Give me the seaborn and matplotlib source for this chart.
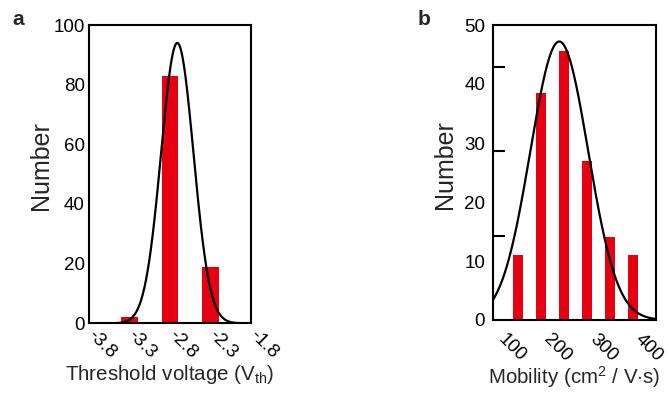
import numpy as np
import pandas as pd
import matplotlib
matplotlib.use("Agg")
import matplotlib.pyplot as plt
from matplotlib.transforms import ScaledTranslation
import seaborn as sns

# ---- panel a: threshold voltage histogram ----
vth_centers = [-3.3, -2.8, -2.3]
vth_counts = [2, 83, 19]
vth_ticks = [-3.8, -3.3, -2.8, -2.3, -1.8]
vth_ticklabels = ["-3.8", "-3.3", "-2.8", "-2.3", "-1.8"]
vth_yticks = [0, 20, 40, 60, 80, 100]
# Gaussian fit: centre, standard deviation, peak height
vth_fit_center = -2.71
vth_fit_sigma = 0.20
vth_fit_peak = 94

# ---- panel b: mobility histogram ----
mob_centers = [125, 175, 225, 275, 325, 375]
mob_counts = [11.1, 38.4, 45.6, 26.9, 14.1, 11.1]
mob_ticks = [100, 200, 300, 400]
mob_ticklabels = ["100", "200", "300", "400"]
mob_yticks = [0, 10, 20, 30, 40, 50]
mob_inner_ticks = [14.3, 28.6, 42.9]
mob_fit_center = 215
mob_fit_sigma = 63
mob_fit_peak = 47.2

BAR_RED = "#e60012"

sns.set_style("white")
plt.rcParams["font.family"] = ["Liberation Sans", "DejaVu Sans"]
plt.rcParams["mathtext.fontset"] = "custom"
plt.rcParams["mathtext.rm"] = "Liberation Sans"
plt.rcParams["mathtext.it"] = "Liberation Sans:italic"
plt.rcParams["mathtext.bf"] = "Liberation Sans:bold"

W, H = 669, 403
fig = plt.figure(figsize=(W / 100, H / 100), dpi=100)
ax_a = fig.add_axes([89 / W, 1 - 323.3 / H, 162 / W, 298.3 / H])
ax_b = fig.add_axes([492.7 / W, 1 - 320 / H, 163 / W, 295 / H])


def gaussian(x, c, s, a):
    return a * np.exp(-((x - c) ** 2) / (2 * s ** 2))


def style_frame(ax):
    for sp in ax.spines.values():
        sp.set_visible(True)
        sp.set_color("black")
        sp.set_linewidth(1.5)


def shift_labels(ax, dx_px, dy_px=0):
    off = ScaledTranslation(dx_px / 100, dy_px / 100, fig.dpi_scale_trans)
    for lab in ax.get_xticklabels():
        lab.set_transform(lab.get_transform() + off)


# ---- panel a ----
df_a = pd.DataFrame({"vth": vth_centers, "count": vth_counts})
sns.barplot(data=df_a, x="vth", y="count", native_scale=True, width=0.4,
            color=BAR_RED, saturation=1, errorbar=None, linewidth=0, ax=ax_a)
xa = np.linspace(vth_ticks[0], vth_ticks[-1], 400)
sns.lineplot(x=xa, y=gaussian(xa, vth_fit_center, vth_fit_sigma, vth_fit_peak),
             color="black", linewidth=1.6, ax=ax_a)
ax_a.set_xlim(vth_ticks[0], vth_ticks[-1])
ax_a.set_ylim(0, 100)
ax_a.set_xticks(vth_ticks)
ax_a.set_xticklabels(vth_ticklabels, rotation=-45, ha="left", va="center",
                     rotation_mode="anchor")
ax_a.set_yticks(vth_yticks)
ax_a.tick_params(axis="both", length=0, labelsize=13.5, colors="black")
ax_a.tick_params(axis="y", pad=3)
ax_a.tick_params(axis="x", pad=7)
shift_labels(ax_a, 1)
style_frame(ax_a)
ax_a.set_ylabel("Number", fontsize=18, va="center")
ax_a.yaxis.set_label_coords(-0.296, 0.53)
ax_a.set_xlabel(r"Threshold voltage (V$_\mathrm{th}$)", fontsize=14.8, va="center")
ax_a.xaxis.set_label_coords(0.5, -0.17)

# ---- panel b ----
df_b = pd.DataFrame({"mobility": mob_centers, "count": mob_counts})
sns.barplot(data=df_b, x="mobility", y="count", native_scale=True, width=0.44,
            color=BAR_RED, saturation=1, errorbar=None, linewidth=0, ax=ax_b)
xb = np.linspace(60, 430, 400)
sns.lineplot(x=xb, y=gaussian(xb, mob_fit_center, mob_fit_sigma, mob_fit_peak),
             color="black", linewidth=1.6, ax=ax_b)
ax_b.set_xlim(70, 425)
ax_b.set_ylim(0, 50)
ax_b.set_xticks(mob_ticks)
ax_b.set_xticklabels(mob_ticklabels, rotation=-45, ha="left", va="center",
                     rotation_mode="anchor")
ax_b.set_yticks(mob_yticks)
ax_b.set_yticks(mob_inner_ticks, minor=True)
ax_b.tick_params(axis="x", which="major", direction="in", length=7.5, width=1.5,
                 labelsize=13.5, pad=12, colors="black")
ax_b.tick_params(axis="y", which="major", length=0, labelsize=13.5, pad=5.5,
                 colors="black")
ax_b.tick_params(axis="y", which="minor", direction="in", length=8.6, width=1.5,
                 left=True, colors="black")
shift_labels(ax_b, -6)
style_frame(ax_b)
ax_b.set_ylabel("Number", fontsize=18, va="center")
ax_b.yaxis.set_label_coords(-0.293, 0.527)
ax_b.set_xlabel(r"Mobility (cm$^{2}$ / V$\cdot$s)", fontsize=14.8, va="center")
ax_b.xaxis.set_label_coords(0.5, -0.193)

# panel letters
fig.text(18 / W, 1 - 25 / H, "a", fontsize=15, fontweight="bold", ha="center",
         va="baseline")
fig.text(424.5 / W, 1 - 25 / H, "b", fontsize=15, fontweight="bold", ha="center",
         va="baseline")

fig.savefig("out.png", dpi=100)
